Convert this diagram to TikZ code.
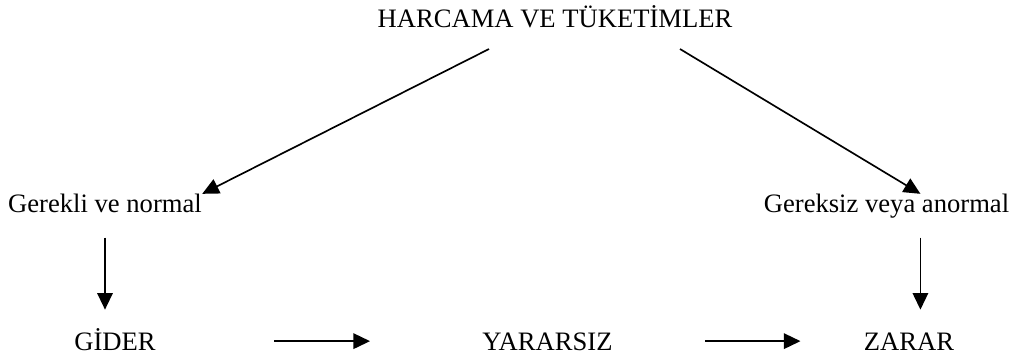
\documentclass[tikz,border=0pt]{standalone}
\usepackage{fontspec}
\setmainfont{Liberation Serif}
\usetikzlibrary{arrows.meta}

\begin{document}
\begin{tikzpicture}[x=0.451pt,y=-0.451pt,
  lbl/.style={inner sep=0pt, anchor=base, text height=8pt, text depth=0pt, font=\fontsize{12}{14}\selectfont},
  arr/.style={-{Triangle[length=7.5pt,width=7pt]}, line width=0.75pt}]
\useasboundingbox (0,0) rectangle (1018,359);
\node[lbl] (harcama) at (555,27) {HARCAMA VE TÜKETİMLER};
\node[lbl] (gerekli) at (105,212) {Gerekli ve normal};
\node[lbl] (gereksiz) at (886.5,212) {Gereksiz veya anormal};
\node[lbl] (gider) at (115,350) {GİDER};
\node[lbl] (yararsiz) at (547.5,350) {YARARSIZ};
\node[lbl] (zarar) at (909,350) {ZARAR};
% free ends under the title
\coordinate (hl) at (489,49);
\coordinate (hr) at (680,49);
\draw[arr] (hl) -- (gerekli.north east);
\draw[arr] (hr) -- ([xshift=15.3pt]gereksiz.north);
\draw[arr, shorten <=11.3pt, shorten >=10pt] (gerekli.south) -- (gerekli.south |- gider.north);
\draw[arr, shorten <=11.3pt, shorten >=10pt] ([xshift=15.3pt]gereksiz.south) -- ([xshift=15.3pt]gereksiz.south |- zarar.north);
\draw[arr, shorten <=53.2pt, shorten >=50.5pt] (gider.east) -- (yararsiz.west);
\draw[arr, shorten <=41.5pt, shorten >=28.4pt] (yararsiz.east) -- (zarar.west);
\end{tikzpicture}
\end{document}
